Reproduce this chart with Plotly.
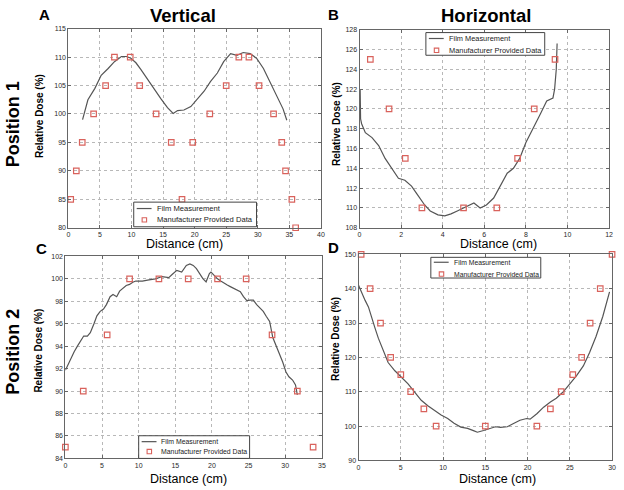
import plotly.graph_objects as go

# ---------------- data ----------------
# Panel A (Position 1, Vertical)
a_film_x = [2.25, 3.1, 4.2, 5.2, 6.3, 7.3, 8.4, 9.2, 9.9, 10.7, 11.5, 12.6, 13.6, 14.7, 15.7, 16.6,
            17.3, 18.3, 19.4, 20.4, 21.5, 22.5, 23.6, 24.6, 25.7, 26.7, 27.7, 28.8, 29.8, 30.9, 31.9,
            33.0, 34.0, 34.6]
a_film_y = [99.0, 102.5, 104.5, 106.8, 108.0, 109.2, 110.1, 110.1, 109.8, 109.0, 107.8, 106.0, 104.2,
            102.6, 101.1, 100.1, 100.6, 100.7, 101.3, 102.6, 104.0, 105.7, 107.2, 109.2, 110.6, 110.3,
            110.8, 110.6, 109.8, 108.0, 105.7, 103.2, 100.9, 98.9]
a_mfr_x = [0.37, 1.26, 2.2, 4.0, 5.9, 7.3, 9.8, 11.3, 13.9, 16.3, 18.0, 19.7, 22.4, 25.0, 27.0, 28.6,
           30.2, 32.5, 33.8, 34.4, 35.4, 36.0]
a_mfr_y = [85, 90, 95, 100, 105, 110, 110, 105, 100, 95, 85, 95, 100, 105, 110, 110, 105, 100, 95, 90,
           85, 80]

# Panel B (Position 1, Horizontal)
b_film_x = [0.03, 0.05, 0.1, 0.28, 0.6, 0.92, 1.23, 1.55, 1.87, 2.18, 2.5, 2.8, 3.13, 3.4, 3.77, 4.1,
            4.4, 4.7, 5.03, 5.35, 5.5, 5.8, 6.1, 6.45, 6.77, 7.1, 7.4, 7.7, 8.0, 8.35, 8.7, 9.0, 9.3,
            9.38, 9.46, 9.5]
b_film_y = [122.0, 119.0, 118.5, 117.6, 117.1, 116.3, 115.0, 114.0, 113.0, 112.8, 112.2, 111.3, 110.3,
            109.7, 109.3, 109.2, 109.4, 109.7, 110.0, 110.3, 110.5, 110.0, 110.3, 111.0, 112.3, 113.5,
            114.0, 115.0, 116.6, 118.0, 119.5, 120.8, 121.1, 122.0, 124.0, 126.6]
b_mfr_x = [0.52, 1.42, 2.2, 3.0, 5.0, 6.6, 7.6, 8.4, 9.4]
b_mfr_y = [125, 120, 115, 110, 110, 110, 115, 120, 125]

# Panel C (Position 2, Vertical)
c_film_x = [0.0, 0.3, 0.75, 1.2, 1.64, 2.1, 2.5, 3.0, 3.4, 3.9, 4.3, 4.75, 5.2, 5.6, 6.1, 6.5, 7.0, 7.4,
            7.9, 8.3, 8.76, 9.2, 9.6, 10.5, 11.4, 12.3, 13.2, 14.1, 14.6, 15.2, 15.87, 16.5, 16.99,
            17.44, 17.88, 18.32, 18.76, 19.2, 19.65, 19.87, 20.3, 20.76, 21.2, 21.65, 22.09, 22.5,
            23.0, 23.4, 23.87, 24.3, 24.76, 25.2, 25.65, 26.1, 26.5, 27.0, 27.4, 27.87, 28.3, 28.76,
            29.2, 29.65, 30.1, 30.5, 31.0, 31.4, 31.65]
c_film_y = [91.85, 92.3, 92.9, 93.5, 94.0, 94.5, 94.9, 94.9, 95.2, 96.0, 96.7, 97.1, 97.3, 97.7, 98.4,
            98.6, 98.4, 98.9, 99.2, 99.4, 99.5, 99.7, 99.8, 99.8, 99.9, 100.0, 100.2, 100.1, 100.4,
            100.75, 100.6, 101.19, 101.33, 101.19, 100.9, 100.46, 100.02, 99.73, 100.46, 100.6, 100.3,
            100.0, 99.8, 99.58, 99.44, 99.3, 99.15, 99.06, 98.85, 98.41, 98.06, 98.1, 98.1, 97.7, 97.4,
            97.1, 96.66, 96.2, 94.77, 94.04, 93.46, 92.59, 91.7, 91.27, 90.98, 90.54, 89.66]
c_mfr_x = [0.0, 2.44, 5.7, 8.76, 12.76, 16.76, 20.76, 24.67, 28.2, 31.65, 33.8]
c_mfr_y = [85, 90, 95, 100, 100, 100, 100, 100, 95, 90, 85]

# Panel D (Position 2, Horizontal)
d_film_x = [0.0, 0.4, 0.78, 1.17, 1.56, 1.95, 2.34, 2.73, 3.1, 3.5, 4.3, 5.08, 5.86, 6.64, 7.42, 8.2,
            9.0, 9.77, 10.55, 11.3, 12.1, 12.9, 13.67, 14.06, 14.8, 15.6, 16.2, 16.8, 17.6, 18.4,
            19.1, 19.9, 20.3, 21.1, 21.9, 22.7, 23.4, 24.2, 25.0, 25.8, 26.6, 27.34, 28.1, 28.9, 29.7]
d_film_y = [141.0, 138.6, 136.6, 134.7, 131.4, 128.5, 125.6, 123.3, 120.9, 118.5, 116.1, 114.2, 112.3,
            109.9, 107.5, 105.9, 104.4, 103.2, 102.2, 100.8, 99.7, 99.3, 98.6, 98.2, 98.7, 99.3, 99.8,
            99.6, 99.8, 100.8, 101.7, 102.2, 102.0, 103.6, 105.5, 107.0, 108.1, 109.9, 112.3, 114.7,
            117.5, 121.4, 126.1, 131.9, 139.1]
d_mfr_x = [0.31, 1.37, 2.6, 3.8, 5.0, 6.17, 7.73, 9.18, 15.0, 21.1, 22.7, 23.98, 25.35, 26.4, 27.4,
           28.6, 30.0]
d_mfr_y = [150, 140, 130, 120, 115, 110, 105, 100, 100, 100, 105, 110, 115, 120, 130, 140, 150]

# tick values
a_xticks = [0, 5, 10, 15, 20, 25, 30, 35, 40]
a_yticks = [80, 85, 90, 95, 100, 105, 110, 115]
b_xticks = [0, 2, 4, 6, 8, 10, 12]
b_yticks = [108, 110, 112, 114, 116, 118, 120, 122, 124, 126, 128]
c_xticks = [0, 5, 10, 15, 20, 25, 30, 35]
c_yticks = [84, 86, 88, 90, 92, 94, 96, 98, 100, 102]
d_xticks = [0, 5, 10, 15, 20, 25, 30]
d_yticks = [90, 100, 110, 120, 130, 140, 150]

FILM_NAME = "Film Measurement"
MFR_NAME = "Manufacturer Provided Data"
X_TITLE = "Distance (cm)"
Y_TITLE = "Relative Dose (%)"

# ---------------- figure ----------------
W, H = 624, 490
def px(x):
    return x / W
def py(y):
    return 1 - y / H

FONT = "Liberation Sans, Arial, sans-serif"
LINE_COLOR = "#555555"
MK_COLOR = "#d9625c"

fig = go.Figure()

panels = [
    (a_film_x, a_film_y, a_mfr_x, a_mfr_y, ""),
    (b_film_x, b_film_y, b_mfr_x, b_mfr_y, "2"),
    (c_film_x, c_film_y, c_mfr_x, c_mfr_y, "3"),
    (d_film_x, d_film_y, d_mfr_x, d_mfr_y, "4"),
]
for fx, fy, mx, my, s in panels:
    fig.add_trace(go.Scatter(x=fx, y=fy, mode="lines", name=FILM_NAME, showlegend=False,
                             line=dict(color=LINE_COLOR, width=1.2),
                             xaxis="x" + s, yaxis="y" + s))
    fig.add_trace(go.Scatter(x=mx, y=my, mode="markers", name=MFR_NAME, showlegend=False,
                             marker=dict(symbol="square-open", size=5.5,
                                         color=MK_COLOR, line=dict(width=1.2, color=MK_COLOR)),
                             cliponaxis=False,
                             xaxis="x" + s, yaxis="y" + s))

tickfont = dict(family=FONT, size=7, color="#2a2a2a")
def axis(domain, anchor, rng, ticks):
    return dict(domain=domain, anchor=anchor, range=rng, tickvals=ticks,
                showgrid=True, gridcolor="#b8b8b8", griddash="dot", gridwidth=1,
                zeroline=False, showline=True, linecolor="#666666", linewidth=1, mirror="ticks",
                ticks="inside", ticklen=3, tickcolor="#666666", tickfont=tickfont)

fig.update_layout(
    width=W, height=H, margin=dict(l=0, r=0, t=0, b=0),
    paper_bgcolor="white", plot_bgcolor="white",
    font=dict(family=FONT), showlegend=False,
    xaxis=axis([px(67), px(322)], "y", [0, 40], a_xticks),
    yaxis=axis([py(227), py(25)], "x", [80, 115], a_yticks),
    xaxis2=axis([px(361), px(613)], "y2", [0, 12], b_xticks),
    yaxis2=axis([py(227), py(26)], "x2", [108, 128], b_yticks),
    xaxis3=axis([px(64), px(323)], "y3", [0, 35], c_xticks),
    yaxis3=axis([py(461), py(256)], "x3", [84, 102], c_yticks),
    xaxis4=axis([px(360), px(616)], "y4", [0, 30], d_xticks),
    yaxis4=axis([py(463), py(254)], "x4", [90, 150], d_yticks),
)

ann = []
shapes = []
def text(x, y, s, size, angle=0, bold=True, color="#000000", xanchor="center", yanchor="middle"):
    ann.append(dict(x=px(x), y=py(y), xref="paper", yref="paper",
                    text=("<b>%s</b>" % s) if bold else s,
                    showarrow=False, textangle=angle, xanchor=xanchor, yanchor=yanchor,
                    borderpad=0, font=dict(family=FONT, size=size, color=color)))

# legends (boxes drawn in page pixels)
def legend_box(x0, y0, x1, y1, r1, r2, fsize):
    shapes.append(dict(type="rect", xref="paper", yref="paper", x0=px(x0), x1=px(x1),
                       y0=py(y0), y1=py(y1), line=dict(color="#444444", width=1),
                       fillcolor="white", layer="above"))
    shapes.append(dict(type="line", xref="paper", yref="paper", x0=px(x0 + 3), x1=px(x0 + 18),
                       y0=py(r1), y1=py(r1), line=dict(color=LINE_COLOR, width=1.2), layer="above"))
    shapes.append(dict(type="rect", xref="paper", yref="paper", x0=px(x0 + 8.5), x1=px(x0 + 13),
                       y0=py(r2 - 2.2), y1=py(r2 + 2.2), line=dict(color=MK_COLOR, width=1.1),
                       fillcolor="rgba(0,0,0,0)", layer="above"))
    ann.append(dict(x=px(x0 + 21), y=py(r1), xref="paper", yref="paper", text=FILM_NAME,
                    showarrow=False, xanchor="left", yanchor="middle",
                    font=dict(family=FONT, size=fsize, color="#222222")))
    ann.append(dict(x=px(x0 + 21), y=py(r2), xref="paper", yref="paper", text=MFR_NAME,
                    showarrow=False, xanchor="left", yanchor="middle",
                    font=dict(family=FONT, size=fsize, color="#222222")))

legend_box(133, 201, 257, 226, 207.5, 219, 7.6)
legend_box(428, 29, 548, 52, 35, 47, 7.4)
legend_box(138, 438, 250, 461, 444, 454, 6.9)
legend_box(433, 257, 544, 278, 262, 274, 6.8)

# titles / labels
text(183, 12, "Vertical", 18.5)
text(489, 12, "Horizontal", 18.5)
text(43, 11, "A", 15)
text(335, 11, "B", 15)
text(40, 248, "C", 15)
text(335, 247, "D", 15)
text(11, 122, "Position 1", 18, angle=-90)
text(11, 353, "Position 2", 18, angle=-90)
text(38, 114, Y_TITLE, 10, angle=-90)
text(337, 122, Y_TITLE, 10, angle=-90)
text(37, 352, Y_TITLE, 10, angle=-90)
text(336, 340, Y_TITLE, 10, angle=-90)
text(184, 243, X_TITLE, 12.5, bold=False)
text(501, 243, X_TITLE, 12.5, bold=False)
text(188, 489.5, X_TITLE, 12.5, bold=False, yanchor="bottom")
text(500, 489.5, X_TITLE, 12.5, bold=False, yanchor="bottom")

fig.update_layout(annotations=ann, shapes=shapes)

# remove the browser's default page margin so the figure sits at the window origin
fig.write_html("out.html", config={"displayModeBar": False},
               post_script="document.body.style.margin='0';")
